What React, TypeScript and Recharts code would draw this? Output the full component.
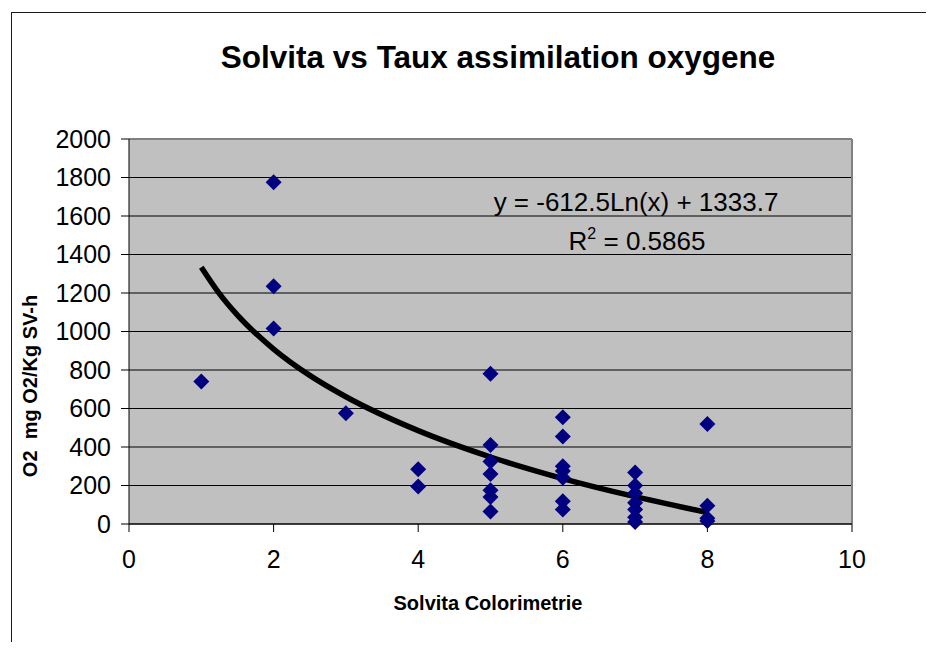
import { CartesianGrid, ComposedChart, Line, ReferenceLine, Scatter, XAxis, YAxis } from "recharts";

// Solvita colorimetric score and the matching O2 uptake rate, one entry per sample
const solvitaScores = [1, 2, 2, 2, 3, 4, 4, 5, 5, 5, 5, 5, 5, 5, 6, 6, 6, 6, 6, 6, 6, 7, 7, 7, 7, 7, 7, 7, 8, 8, 8, 8];
const o2Rates = [740, 1775, 1235, 1015, 575, 285, 195, 780, 410, 325, 260, 175, 140, 65, 555, 455, 300, 275, 240, 118, 75, 268, 200, 160, 110, 75, 35, 10, 520, 95, 30, 15];

// log trendline as drawn
const trendX = [1, 1.25, 1.5, 2, 2.5, 3, 4, 5, 6, 7, 8];
const trendY = [1334, 1197, 1085, 909, 772, 661, 485, 348, 236, 142, 60];

const xTicks = [0, 2, 4, 6, 8, 10];
const yTicks = [0, 200, 400, 600, 800, 1000, 1200, 1400, 1600, 1800, 2000];

const points = solvitaScores.map((x, i) => ({ x, y: o2Rates[i] }));
const trend = trendX.map((x, i) => ({ x, y: trendY[i] }));

const FONT = "'Liberation Sans', Arial, sans-serif";

function Diamond(props: any) {
  const { cx, cy } = props;
  const r = 8;
  return <path d={`M${cx},${cy - r}L${cx + r},${cy}L${cx},${cy + r}L${cx - r},${cy}Z`} fill="#000080" />;
}

function XTick({ x, y, payload }: any) {
  return (
    <text x={x} y={y} dy="0.71em" textAnchor="middle" fontFamily={FONT} fontSize={25} fill="#000">
      {payload.value}
    </text>
  );
}

function YTick({ x, y, payload }: any) {
  return (
    <text x={x} y={y} dy="0.355em" textAnchor="end" fontFamily={FONT} fontSize={25} fill="#000">
      {payload.value}
    </text>
  );
}

export default function App() {
  return (
    <div style={{ position: "relative", width: 934, height: 650, margin: -8, overflow: "hidden", background: "#fff" }}>
      <div style={{ position: "absolute", left: 11, top: 12, width: 1000, height: 1000, border: "1px solid #1a1a1a" }} />
      <div style={{ position: "absolute", left: 0, top: 0 }}>
        <ComposedChart width={934} height={650} margin={{ top: 139, right: 82, bottom: 76, left: 29 }}>
          <CartesianGrid vertical={false} stroke="#000" fill="#c0c0c0" fillOpacity={1} />
          <XAxis
            type="number"
            dataKey="x"
            domain={[0, 10]}
            ticks={xTicks}
            height={50}
            stroke="#000"
            tickSize={8}
            tickMargin={18}
            tick={<XTick />}
          />
          <YAxis
            type="number"
            dataKey="y"
            domain={[0, 2000]}
            ticks={yTicks}
            width={100}
            stroke="#000"
            tickSize={8}
            tickMargin={10}
            tick={<YTick />}
          />
          <ReferenceLine y={2000} stroke="#808080" strokeWidth={2} />
          <ReferenceLine x={10} stroke="#808080" strokeWidth={2} />
          <Scatter data={points} dataKey="y" shape={<Diamond />} isAnimationActive={false} />
          <Line
            data={trend}
            dataKey="y"
            type="monotone"
            stroke="#000"
            strokeWidth={5.5}
            dot={false}
            activeDot={false}
            isAnimationActive={false}
          />
        </ComposedChart>
      </div>
      <svg width={934} height={650} style={{ position: "absolute", left: 0, top: 0, pointerEvents: "none" }}>
        <text x={498} y={68} textAnchor="middle" fontFamily={FONT} fontSize={31.5} fontWeight="bold" fill="#000">
          Solvita vs Taux assimilation oxygene
        </text>
        <text x={636} y={211} textAnchor="middle" fontFamily={FONT} fontSize={26} fill="#000">
          y = -612.5Ln(x) + 1333.7
        </text>
        <text x={637} y={250} textAnchor="middle" fontFamily={FONT} fontSize={26} fill="#000">
          R<tspan dy={-11} fontSize={16}>2</tspan>
          <tspan dy={11}> = 0.5865</tspan>
        </text>
        <text x={488} y={610} textAnchor="middle" fontFamily={FONT} fontSize={20} fontWeight="bold" fill="#000">
          Solvita Colorimetrie
        </text>
        <text
          transform="translate(37,386) rotate(-90)"
          textAnchor="middle"
          fontFamily={FONT}
          fontSize={20}
          fontWeight="bold"
          fill="#000"
          style={{ whiteSpace: "pre" }}
        >
          O2  mg O2/Kg SV-h
        </text>
      </svg>
    </div>
  );
}
